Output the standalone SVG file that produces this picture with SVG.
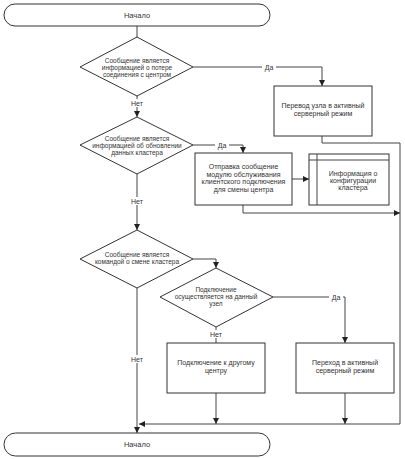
<svg xmlns="http://www.w3.org/2000/svg" width="405" height="459" viewBox="0 0 405 459">
<defs>
<marker id="ah" viewBox="0 0 6 6" refX="6" refY="3" markerWidth="6" markerHeight="6" orient="auto" markerUnits="userSpaceOnUse">
<path d="M0,0 L6,3 L0,6 Z" fill="#222"/>
</marker>
<style>
.s{fill:#fff;stroke:#333;stroke-width:1}
.c{fill:none;stroke:#444;stroke-width:1}
.a{fill:none;stroke:#444;stroke-width:1;marker-end:url(#ah)}
text{font-family:"Liberation Sans",Arial,sans-serif;font-size:7px;fill:#333;text-anchor:middle}
.d text{font-size:6.5px}
.l{fill:#fff;stroke:none}
</style>
</defs>
<rect width="405" height="459" fill="#fff"/>
<g id="connectors">
<path class="c" d="M137,26 V37"/>
<path class="a" d="M193,67 H322 V86"/>
<path class="a" d="M137,96 V117"/>
<path class="c" d="M322,136 V143 H400 V424"/>
<path class="a" d="M193,145 H243 V153"/>
<path class="a" d="M292,179 H309"/>
<path class="a" d="M243,205 V213 H400"/>
<path class="a" d="M137,174 V230"/>
<path class="a" d="M193,259 H216 V268"/>
<path class="a" d="M273,297 H345 V343"/>
<path class="c" d="M216,327 V343"/>
<path class="a" d="M216,393 V424"/>
<path class="a" d="M345,393 V424"/>
<path class="a" d="M400,424 H139"/>
<path class="a" d="M137,288 V433"/>
<rect class="l" x="262" y="63" width="14" height="8"/>
<text x="269" y="69.5">Да</text>
<rect class="l" x="130" y="99" width="14" height="8"/>
<text x="137" y="105.5">Нет</text>
<rect class="l" x="215" y="141" width="14" height="8"/>
<text x="222" y="147.5">Да</text>
<rect class="l" x="130" y="197" width="14" height="8"/>
<text x="137" y="203.5">Нет</text>
<rect class="l" x="329" y="293" width="14" height="8"/>
<text x="336" y="299.5">Да</text>
<rect class="l" x="209" y="330" width="14" height="8"/>
<text x="216" y="336.5">Нет</text>
<rect class="l" x="130" y="355" width="14" height="8"/>
<text x="137" y="361.5">Нет</text>
</g>
<g id="start">
<rect class="s" x="4" y="4" width="266" height="22" rx="11" ry="11"/>
<text x="137" y="17.5" style="font-size:7.5px">Начало</text>
</g>
<g id="d1" class="d">
<path class="s" d="M137,37 L193,67 L137,96 L80,67 Z"/>
<text x="137" y="63">Сообщение является</text>
<text x="137" y="70">информацией о потере</text>
<text x="137" y="77">соединения с центром</text>
</g>
<g id="r1">
<rect class="s" x="274" y="86" width="98" height="50"/>
<text x="323" y="108">Перевод узла в активный</text>
<text x="323" y="116">серверный режим</text>
</g>
<g id="d2" class="d">
<path class="s" d="M137,117 L193,145 L137,174 L80,145 Z"/>
<text x="137" y="141">Сообщение является</text>
<text x="137" y="148">информацией об обновлении</text>
<text x="137" y="155">данных кластера</text>
</g>
<g id="r2">
<rect class="s" x="195" y="153" width="97" height="52"/>
<text x="243.5" y="169">Отправка сообщение</text>
<text x="243.5" y="176.5">модулю обслуживания</text>
<text x="243.5" y="184">клиентского подключения</text>
<text x="243.5" y="191.5">для смены центра</text>
</g>
<g id="r3">
<rect class="s" x="309" y="154" width="80" height="51"/>
<path class="c" d="M317,154 V205 M309,160 H389"/>
<text x="353" y="176">Информация о</text>
<text x="353" y="183">конфигурации</text>
<text x="353" y="190">кластера</text>
</g>
<g id="d3" class="d">
<path class="s" d="M137,230 L193,259 L137,288 L80,259 Z"/>
<text x="137" y="257">Сообщение является</text>
<text x="137" y="264">командой о смене кластера</text>
</g>
<g id="d4" class="d">
<path class="s" d="M216,268 L273,297 L216,327 L160,297 Z"/>
<text x="216" y="292">Подключение</text>
<text x="216" y="299">осуществляется на данный</text>
<text x="216" y="306">узел</text>
</g>
<g id="r4">
<rect class="s" x="167" y="343" width="98" height="50"/>
<text x="216" y="365">Подключение к другому</text>
<text x="216" y="373">центру</text>
</g>
<g id="r5">
<rect class="s" x="296" y="343" width="98" height="50"/>
<text x="345" y="365">Переход в активный</text>
<text x="345" y="373">серверный режим</text>
</g>
<g id="end">
<rect class="s" x="4" y="433" width="266" height="23" rx="11.5" ry="11.5"/>
<text x="137" y="447" style="font-size:7.5px">Начало</text>
</g>
</svg>
